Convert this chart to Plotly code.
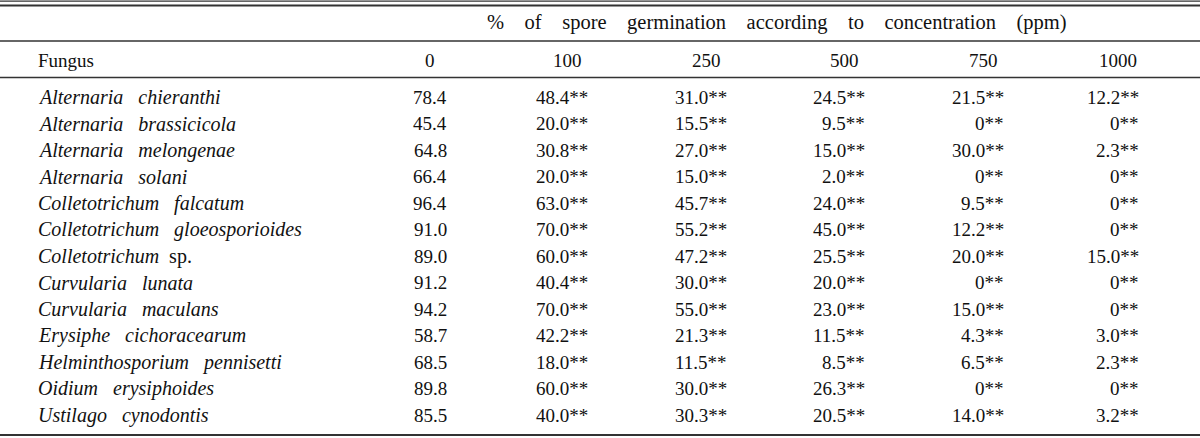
import plotly.graph_objects as go

# ---------------- data ----------------
genus = ["Alternaria", "Alternaria", "Alternaria", "Alternaria",
         "Colletotrichum", "Colletotrichum", "Colletotrichum",
         "Curvularia", "Curvularia", "Erysiphe", "Helminthosporium",
         "Oidium", "Ustilago"]
species = ["chieranthi", "brassicicola", "melongenae", "solani",
           "falcatum", "gloeosporioides", "sp.",
           "lunata", "maculans", "cichoracearum", "pennisetti",
           "erysiphoides", "cynodontis"]
conc_labels = ["0", "100", "250", "500", "750", "1000"]
v0 = [78.4, 45.4, 64.8, 66.4, 96.4, 91.0, 89.0, 91.2, 94.2, 58.7, 68.5, 89.8, 85.5]
v100 = [48.4, 20.0, 30.8, 20.0, 63.0, 70.0, 60.0, 40.4, 70.0, 42.2, 18.0, 60.0, 40.0]
v250 = [31.0, 15.5, 27.0, 15.0, 45.7, 55.2, 47.2, 30.0, 55.0, 21.3, 11.5, 30.0, 30.3]
v500 = [24.5, 9.5, 15.0, 2.0, 24.0, 45.0, 25.5, 20.0, 23.0, 11.5, 8.5, 26.3, 20.5]
v750 = [21.5, 0, 30.0, 0, 9.5, 12.2, 20.0, 0, 15.0, 4.3, 6.5, 0, 14.0]
v1000 = [12.2, 0, 2.3, 0, 0, 0, 15.0, 0, 0, 3.0, 2.3, 0, 3.2]
sig_mark = "**"
group_title = "% of spore germination according to concentration (ppm)"
first_col_title = "Fungus"

# ---------------- layout helpers ----------------
W, H = 1200, 438
FONT = "Liberation Serif, Times New Roman, serif"
FS = 19
TXT = "#111111"
LINE = "#333333"

row_y0 = 97.0
row_dy = 26.5
head1_y = 22
head2_y = 60
name_x = 36
col0_center = 430
col_centers = [567, 706, 844, 983, 1118]
right_offset = 23
title_center = 777

def fmt(v):
    return "0" if v == 0 else f"{v:.1f}"

def fname(g, s):
    if s.endswith("."):
        return f"<i>{g}</i>&nbsp;&nbsp;{s}"
    return f"<i>{g}&nbsp;&nbsp;&nbsp;{s}</i>"

ann = []
def add(x, y, text, xanchor, size=FS):
    ann.append(dict(x=x, y=y, xref="x", yref="y", text=text, showarrow=False,
                    xanchor=xanchor, yanchor="middle",
                    font=dict(family=FONT, size=size, color=TXT)))

# header
add(title_center, head1_y,
    "&nbsp;&nbsp;&nbsp;&nbsp;".join(group_title.split(" ")), "center", size=20.5)
add(name_x, head2_y, first_col_title, "left")
add(col0_center, head2_y, conc_labels[0], "center")
for c, lab in zip(col_centers, conc_labels[1:]):
    add(c, head2_y, lab, "center")

treated = [v100, v250, v500, v750, v1000]
for i in range(len(genus)):
    y = row_y0 + i * row_dy
    add(name_x, y, fname(genus[i], species[i]), "left", size=20)
    add(col0_center, y, fmt(v0[i]), "center")
    for c, col in zip(col_centers, treated):
        add(c + right_offset, y, fmt(col[i]) + sig_mark, "right")

shapes = []
def hline(y, w):
    shapes.append(dict(type="line", xref="x", yref="y", x0=0, x1=W, y0=y, y1=y,
                       line=dict(color=LINE, width=w)))
hline(1.2, 1.2)
hline(5.5, 2)
hline(41, 1.5)
hline(77.5, 1.5)
hline(435, 2)

fig = go.Figure()
fig.add_trace(go.Scatter(x=[0, W], y=[0, H], mode="markers",
                         marker=dict(opacity=0), hoverinfo="skip", showlegend=False))
fig.update_layout(
    width=W, height=H, margin=dict(l=0, r=0, t=0, b=0),
    paper_bgcolor="white", plot_bgcolor="white",
    xaxis=dict(range=[0, W], visible=False, fixedrange=True),
    yaxis=dict(range=[H, 0], visible=False, fixedrange=True),
    annotations=ann, shapes=shapes, showlegend=False,
)
fig.write_html("out.html", config={"displayModeBar": False},
               post_script="document.body.style.margin='0';document.body.style.overflow='hidden';")
